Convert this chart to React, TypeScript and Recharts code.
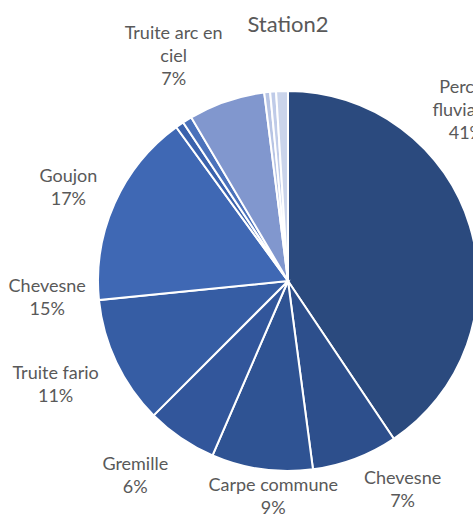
import React from 'react';
import { PieChart, Pie, Cell } from 'recharts';

// clockwise from 12 o'clock
const SPECIES = [
  'Perche\nfluviatile',
  'Chevesne',
  'Carpe commune',
  'Gremille',
  'Truite fario',
  'Chevesne',
  'Goujon',
  '',
  '',
  'Truite arc en\nciel',
  '',
  '',
  '',
];
const SHARES = [40.6, 7.3, 8.6, 6.0, 10.9, 0, 16.6, 0.7, 0.8, 6.5, 0.5, 0.5, 1.0];
const PCT_LABELS = ['41%', '7%', '9%', '6%', '11%', '15%', '17%', '', '', '7%', '', '', ''];

const COLORS = [
  '#2b4a7e', // perche
  '#2d4f8c',
  '#2f5393',
  '#32569b',
  '#365da4',
  '#3a63ad',
  '#3f68b4',
  '#3a62ad',
  '#4b72bb',
  '#8197ce',
  '#b7c4e4',
  '#bfcbe8',
  '#cad4eb',
];

// label nudges (px) from the default radial spot
const LABEL_NUDGE: [number, number][] = [
  [-56, -101],
  [28, -22],
  [19, -28],
  [-15, -9],
  [-11, -3],
  [3, -9],
  [4, 6],
  [0, 0],
  [0, 0],
  [-35, 6],
  [0, 0],
  [0, 0],
  [0, 0],
];

const data = SPECIES.map((name, i) => ({ name, value: SHARES[i], pct: PCT_LABELS[i] }));

const FONT = 'Lato, "Open Sans", sans-serif';
const TEXT_COLOR = '#595959';
const LINE_H = 23;
const RAD = Math.PI / 180;

const renderLabel = (props: any) => {
  const { cx, cy, midAngle, outerRadius, index } = props;
  const entry = data[index];
  if (!entry || !entry.pct) return null;
  const r = outerRadius + 55;
  const x = cx + r * Math.cos(-midAngle * RAD) + LABEL_NUDGE[index][0];
  const y = cy + r * Math.sin(-midAngle * RAD) + LABEL_NUDGE[index][1];
  const lines = [...entry.name.split('\n'), entry.pct];
  return (
    <text
      key={`lbl-${index}`}
      x={x}
      y={y}
      textAnchor="middle"
      fill={TEXT_COLOR}
      fontFamily={FONT}
      fontSize={18}
    >
      {lines.map((l, i) => (
        <tspan key={i} x={x} y={y + (i - (lines.length - 1) / 2) * LINE_H} dominantBaseline="central">
          {l}
        </tspan>
      ))}
    </text>
  );
};

export default function App() {
  return (
    <div
      style={{
        position: 'absolute',
        left: 0,
        top: 0,
        width: 473,
        height: 515,
        overflow: 'hidden',
        background: '#fff',
      }}
    >
      <div
        style={{
          position: 'absolute',
          left: 0,
          width: 473,
          top: 10,
          textAlign: 'center',
          paddingLeft: 103,
          boxSizing: 'border-box',
          fontFamily: FONT,
          fontSize: 22,
          color: TEXT_COLOR,
        }}
      >
        Station2
      </div>
      <PieChart width={620} height={515} margin={{ top: 0, right: 0, bottom: 0, left: 0 }}>
        <Pie
          data={data}
          dataKey="value"
          nameKey="name"
          cx={288}
          cy={281}
          outerRadius={190}
          startAngle={90}
          endAngle={-270}
          stroke="#ffffff"
          strokeWidth={2}
          label={renderLabel}
          labelLine={false}
          isAnimationActive={false}
        >
          {data.map((_, idx) => (
            <Cell key={idx} fill={COLORS[idx]} />
          ))}
        </Pie>
      </PieChart>
    </div>
  );
}
